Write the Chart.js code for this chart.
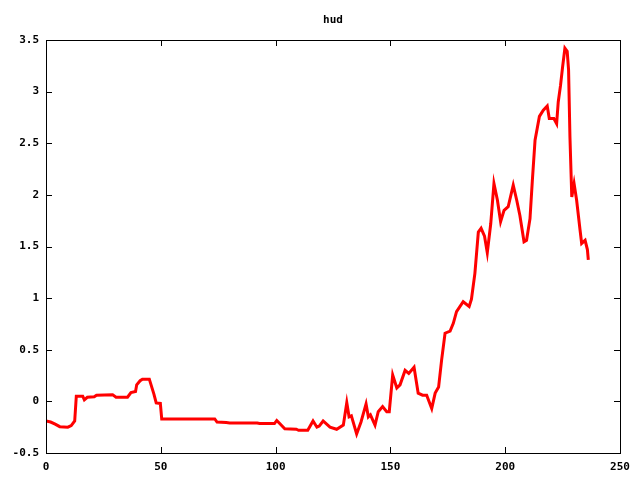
<!DOCTYPE html>
<html>
<head>
<meta charset="utf-8">
<script src="https://cdn.jsdelivr.net/npm/chart.js@4"></script>
<style>
  html, body { margin: 0; padding: 0; background: #fff; }
  #wrap { width: 640px; height: 480px; }
</style>
</head>
<body>
<div id="wrap"><canvas id="myChart" width="640" height="480"></canvas></div>
<script>
var chartTitle = 'hud';

// x positions (sample index)
var xValues = [0, 2, 4, 6, 9.5, 11, 12.5, 13.2, 16, 16.7, 18, 21, 22, 29, 30.5, 35.5, 37, 39, 39.5, 41, 42, 45, 47, 48, 49.8,
    50.4, 73.5, 74.5, 78.5, 80, 92, 93, 99.5, 100.5, 102, 104, 109, 110, 114, 115, 116.3, 118, 119, 120.7, 123.7, 126.6,
    129.5, 131, 132, 133, 135.3, 137.2, 139.4, 140.4, 141.3, 143.3, 144.7, 146.6, 148.4, 149.5, 151, 152.8, 154.2, 156.4,
    158, 160.3, 162.1, 164, 165.8, 168, 169.5, 171, 172.3, 173.8, 176, 177.4, 178.8, 181.7, 184.3, 185.3, 186.8, 188.3,
    189.5, 191, 192.2, 193.7, 195.1, 196.6, 198, 199.5, 201.3, 203.5, 205, 206.4, 208.2, 209.3, 210.8, 211.8, 213, 214.9,
    216.6, 218.3, 219.2, 221.2, 222.4, 223.1, 224.1, 225, 226, 227, 227.6, 228.2, 229, 230, 231.1, 232.6, 233.3, 234.8,
    235.8, 236.2];

// hud values
var yValues = [-0.19, -0.2, -0.22, -0.245, -0.25, -0.235, -0.19, 0.05, 0.05, 0.015, 0.04, 0.045, 0.06, 0.065, 0.04, 0.04,
    0.085, 0.095, 0.16, 0.2, 0.215, 0.215, 0.07, -0.015, -0.02,
    -0.17, -0.17, -0.2, -0.205, -0.21, -0.21, -0.215, -0.215, -0.185, -0.22, -0.265, -0.27, -0.28, -0.28, -0.24, -0.19,
    -0.25, -0.24, -0.19, -0.25, -0.27,
    -0.23, -0.013, -0.15, -0.14, -0.316, -0.2, -0.025, -0.15, -0.13, -0.23, -0.1, -0.05, -0.1, -0.1, 0.255, 0.13, 0.16, 0.3,
    0.27, 0.33, 0.08, 0.06, 0.06, -0.07, 0.08, 0.14, 0.4, 0.66, 0.68, 0.756, 0.87, 0.965, 0.92, 0.99, 1.24, 1.64,
    1.676, 1.6, 1.44, 1.72, 2.11, 1.95, 1.74, 1.85, 1.885, 2.095, 1.95, 1.8, 1.546, 1.56, 1.77, 2.13, 2.53, 2.76,
    2.82, 2.86, 2.74, 2.74, 2.69, 2.9, 3.06, 3.24, 3.42, 3.39, 3.21, 2.56, 1.98, 2.11, 1.95, 1.66, 1.53, 1.56,
    1.47, 1.37];

var xTicks = [0, 50, 100, 150, 200, 250];
var yTicks = [-0.5, 0, 0.5, 1, 1.5, 2, 2.5, 3, 3.5];

var points = [];
for (var i = 0; i < xValues.length; i++) {
    points.push({ x: xValues[i], y: yValues[i] });
}

var tickFont = { family: 'DejaVu Sans Mono', size: 11, weight: 'bold' };

// gnuplot style frame, inward ticks and title
var framePlugin = {
    id: 'frame',
    afterDraw: function (chart) {
        var ctx = chart.ctx;
        var a = chart.chartArea;
        var xs = chart.scales.x, ys = chart.scales.y;
        ctx.save();
        ctx.strokeStyle = '#000';
        ctx.lineWidth = 1;
        ctx.strokeRect(Math.round(a.left) + 0.5, Math.round(a.top) + 0.5,
            Math.round(a.right - a.left), Math.round(a.bottom - a.top));
        ctx.beginPath();
        xTicks.forEach(function (v) {
            var px = Math.round(xs.getPixelForValue(v)) + 0.5;
            ctx.moveTo(px, a.bottom); ctx.lineTo(px, a.bottom - 6);
            ctx.moveTo(px, a.top); ctx.lineTo(px, a.top + 6);
        });
        yTicks.forEach(function (v) {
            var py = Math.round(ys.getPixelForValue(v)) + 0.5;
            ctx.moveTo(a.left, py); ctx.lineTo(a.left + 6, py);
            ctx.moveTo(a.right, py); ctx.lineTo(a.right - 6, py);
        });
        ctx.stroke();
        ctx.fillStyle = '#000';
        ctx.font = 'bold 11px "DejaVu Sans Mono"';
        ctx.textAlign = 'center';
        ctx.textBaseline = 'middle';
        ctx.fillText(chartTitle, (a.left + a.right) / 2, 20);
        ctx.restore();
    }
};

var ctx = document.getElementById('myChart').getContext('2d');
var chart = new Chart(ctx, {
    type: 'line',
    data: {
        datasets: [{
            label: chartTitle,
            data: points,
            borderColor: '#ff0000',
            borderWidth: 3,
            pointRadius: 0,
            tension: 0,
            fill: false
        }]
    },
    options: {
        responsive: false,
        animation: false,
        layout: { padding: { top: 40, right: 20, left: 0, bottom: 0 } },
        plugins: {
            legend: { display: false },
            title: { display: false },
            tooltip: { enabled: false }
        },
        scales: {
            x: {
                type: 'linear',
                min: 0,
                max: 250,
                border: { display: false },
                grid: { display: false, drawTicks: false },
                afterFit: function (scale) { scale.height = 27; },
                afterBuildTicks: function (scale) {
                    scale.ticks = xTicks.map(function (v) { return { value: v }; });
                },
                ticks: { color: '#000', font: tickFont, padding: 8, maxRotation: 0,
                    callback: function (v) { return String(v); } }
            },
            y: {
                type: 'linear',
                min: -0.5,
                max: 3.5,
                border: { display: false },
                grid: { display: false, drawTicks: false },
                afterFit: function (scale) { scale.width = 46; },
                afterBuildTicks: function (scale) {
                    scale.ticks = yTicks.map(function (v) { return { value: v }; });
                },
                ticks: { color: '#000', font: tickFont, padding: 7,
                    callback: function (v) { return String(v); } }
            }
        }
    },
    plugins: [framePlugin]
});
</script>
</body>
</html>
